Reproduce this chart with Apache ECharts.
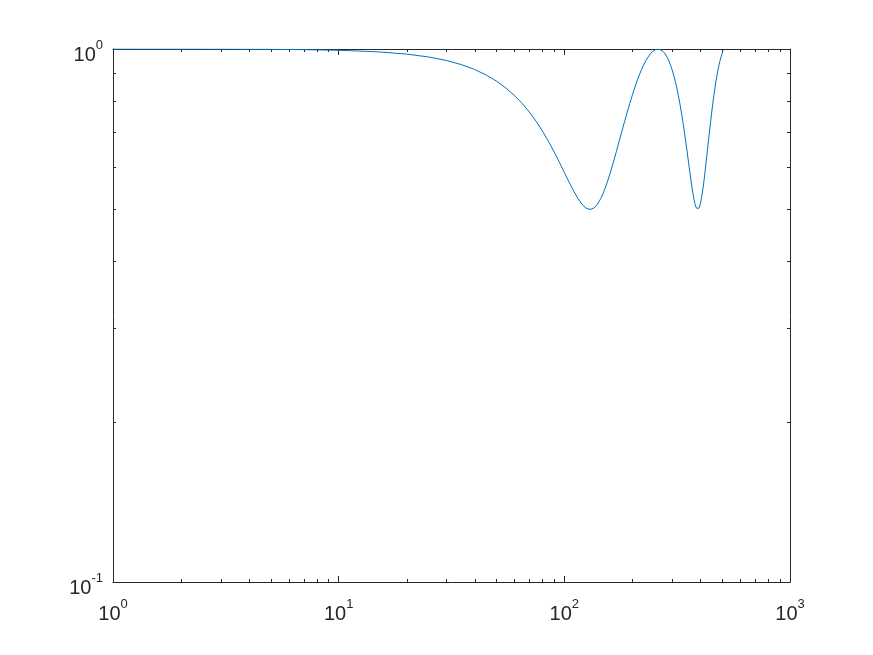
<!DOCTYPE html>
<html>
<head>
<meta charset="utf-8">
<script src="https://cdn.jsdelivr.net/npm/echarts@6/dist/echarts.min.js"></script>
<style>
html,body{margin:0;padding:0;background:#fff;}
#chart{width:873px;height:655px;}
</style>
</head>
<body>
<div id="chart"></div>
<script>
// Data
const xValues = [1, 2, 3, 5, 7, 10, 15, 20, 25, 30, 35, 40, 45, 50, 55, 60, 65, 70, 75, 80, 85, 90, 95, 100,
  105, 110, 115, 120, 125, 130, 135, 140, 145, 150, 155, 160, 165, 170, 175, 180, 185, 190, 195, 200,
  205, 210, 215, 220, 225, 230, 235, 240, 245, 250, 255, 260, 265, 270, 275, 280, 285, 290, 295, 300,
  305, 310, 315, 320, 325, 330, 335, 340, 345, 350, 355, 360, 365, 370, 375, 380, 385, 390, 395, 400,
  405, 410, 415, 420, 425, 430, 435, 440, 445, 450, 455, 460, 465, 470, 475, 480, 485, 490, 495, 500, 505];
const yValues = [1.0, 0.9998, 0.9995, 0.9986, 0.9973, 0.9945, 0.9877, 0.9783, 0.9662, 0.9517, 0.9347, 0.9154, 0.8940, 0.8706, 0.8454, 0.8187, 0.7906, 0.7615, 0.7316, 0.7014, 0.6713, 0.6419, 0.6135, 0.5868,
  0.5625, 0.5413, 0.5238, 0.5108, 0.5027, 0.5000, 0.5027, 0.5108, 0.5238, 0.5413, 0.5625, 0.5868, 0.6135, 0.6419, 0.6713, 0.7014, 0.7316, 0.7615, 0.7906, 0.8187,
  0.8454, 0.8706, 0.8940, 0.9154, 0.9347, 0.9517, 0.9662, 0.9783, 0.9877, 0.9945, 0.9986, 1.0, 0.9986, 0.9945, 0.9877, 0.9783, 0.9662, 0.9517, 0.9347, 0.9154,
  0.8940, 0.8706, 0.8454, 0.8187, 0.7906, 0.7615, 0.7316, 0.7014, 0.6713, 0.6419, 0.6135, 0.5868, 0.5625, 0.5413, 0.5238, 0.5108, 0.5027, 0.5000, 0.5027, 0.5108,
  0.5238, 0.5413, 0.5625, 0.5868, 0.6135, 0.6419, 0.6713, 0.7014, 0.7316, 0.7615, 0.7906, 0.8187, 0.8454, 0.8706, 0.8940, 0.9154, 0.9347, 0.9517, 0.9662, 0.9800, 0.9920];
const xMinorTicks = [2, 3, 4, 5, 6, 7, 8, 9, 20, 30, 40, 50, 60, 70, 80, 90, 200, 300, 400, 500, 600, 700, 800, 900];
const yMinorTicks = [0.2, 0.3, 0.4, 0.5, 0.6, 0.7, 0.8, 0.9];
const xRange = [1, 1000];
const yRange = [0.1, 1];

const axisColor = '#262626';
const lineColor = '#0072BD';
const fontFam = '"Liberation Sans", Arial, Helvetica, sans-serif';

const labelRich = {
  b: {fontSize: 20, color: axisColor, fontFamily: fontFam, verticalAlign: 'bottom', lineHeight: 26},
  s: {fontSize: 13, color: axisColor, fontFamily: fontFam, verticalAlign: 'top', lineHeight: 26}
};
const powFmt = v => '{b|10}{s|' + Math.round(Math.log10(v)) + '}';

function xAxisDef(pos, showLabel) {
  return {
    type: 'log', logBase: 10, min: xRange[0], max: xRange[1], position: pos,
    axisLine: {show: true, onZero: false, lineStyle: {color: axisColor, width: 1}},
    axisTick: {show: true, inside: true, length: 6, lineStyle: {color: axisColor, width: 1}},
    axisLabel: {show: showLabel, formatter: powFmt, rich: labelRich, margin: 16},
    splitLine: {show: false}, minorTick: {show: false}
  };
}
function yAxisDef(pos, showLabel) {
  return {
    type: 'log', logBase: 10, min: yRange[0], max: yRange[1], position: pos,
    axisLine: {show: true, onZero: false, lineStyle: {color: axisColor, width: 1}},
    axisTick: {show: true, inside: true, length: 6, lineStyle: {color: axisColor, width: 1}},
    axisLabel: {show: showLabel, formatter: powFmt, rich: labelRich, margin: 10, padding: [6, 0, 0, 0]},
    splitLine: {show: false}, minorTick: {show: false}
  };
}

function tickLine(x1, y1, x2, y2) {
  return {type: 'line', shape: {x1, y1, x2, y2}, style: {stroke: axisColor, lineWidth: 1}};
}

const chart = echarts.init(document.getElementById('chart'), null, {renderer: 'canvas'});
chart.setOption({
  animation: false,
  backgroundColor: '#ffffff',
  grid: {left: 113, right: 83, top: 49, bottom: 73, containLabel: false},
  xAxis: [xAxisDef('bottom', true), xAxisDef('top', false)],
  yAxis: [yAxisDef('left', true), yAxisDef('right', false)],
  series: [
    {
      type: 'custom', xAxisIndex: 0, yAxisIndex: 0, silent: true, clip: false, z: 1,
      data: xMinorTicks.map(v => [v, yRange[1]]),
      encode: {x: 0, y: 1},
      renderItem: (params, api) => {
        const v = api.value(0);
        const top = api.coord([v, yRange[1]]);
        const bot = api.coord([v, yRange[0]]);
        const x = Math.round(top[0]) + 0.5;
        return {type: 'group', children: [
          tickLine(x, top[1], x, top[1] + 3),
          tickLine(x, bot[1], x, bot[1] - 3)
        ]};
      }
    },
    {
      type: 'custom', xAxisIndex: 0, yAxisIndex: 0, silent: true, clip: false, z: 1,
      data: yMinorTicks.map(v => [xRange[0], v]),
      encode: {x: 0, y: 1},
      renderItem: (params, api) => {
        const v = api.value(1);
        const left = api.coord([xRange[0], v]);
        const right = api.coord([xRange[1], v]);
        const y = Math.round(left[1]) + 0.5;
        return {type: 'group', children: [
          tickLine(left[0], y, left[0] + 3, y),
          tickLine(right[0], y, right[0] - 3, y)
        ]};
      }
    },
    {
      type: 'line', xAxisIndex: 0, yAxisIndex: 0, z: 3,
      data: xValues.map((x, i) => [x, yValues[i]]),
      showSymbol: false, symbol: 'none', smooth: false, clip: true,
      lineStyle: {color: lineColor, width: 1}
    }
  ]
});
</script>
</body>
</html>
